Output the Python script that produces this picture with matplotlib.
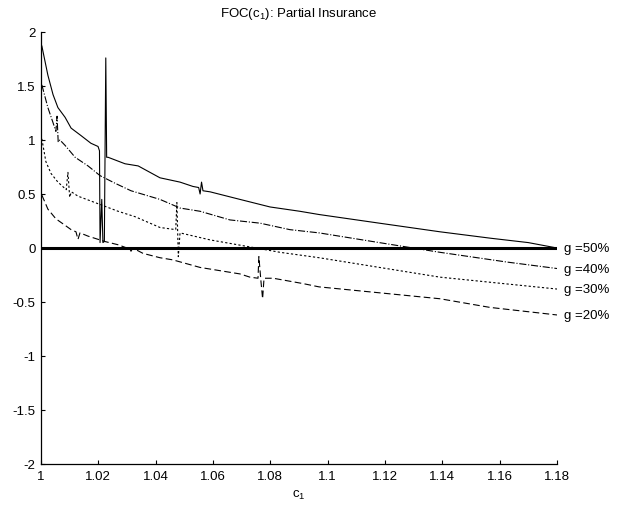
import matplotlib
matplotlib.use("Agg")
import matplotlib.pyplot as plt

plt.rcParams['font.family'] = ['Liberation Sans Narrow', 'Liberation Sans', 'DejaVu Sans']
plt.rcParams['mathtext.default'] = 'regular'
plt.rcParams['font.size'] = 9.5

# FOC(c1) for each g (glitches included)
c50 = [1.0003, 1.0024, 1.0042, 1.0059, 1.0084, 1.0105, 1.0140, 1.0174, 1.0199, 1.0204,
       1.0206, 1.0212, 1.0216, 1.0221, 1.0226, 1.0229, 1.0234, 1.0293, 1.0339, 1.0415,
       1.0485, 1.0530, 1.0550, 1.0555, 1.0560, 1.0565, 1.0590, 1.0694, 1.0799, 1.0903,
       1.0970, 1.1180, 1.1392, 1.1570, 1.1700, 1.1800]
v50 = [1.87, 1.60, 1.42, 1.30, 1.21, 1.11, 1.04, 0.97, 0.94, 0.90,
       0.05, 0.45, 0.05, 0.06, 1.76, 0.84, 0.84, 0.78, 0.76, 0.65,
       0.61, 0.57, 0.56, 0.50, 0.61, 0.53, 0.52, 0.45, 0.38, 0.34,
       0.31, 0.23, 0.15, 0.09, 0.05, 0.00]

c40 = [1.0003, 1.0024, 1.0042, 1.0052, 1.0056, 1.0060, 1.0066, 1.0084, 1.0119, 1.0164,
       1.0206, 1.0258, 1.0314, 1.0415, 1.0485, 1.0555, 1.0659, 1.0764, 1.0868, 1.0970,
       1.1180, 1.1392, 1.1625, 1.1800]
v40 = [1.51, 1.30, 1.16, 1.08, 1.22, 0.98, 1.00, 0.95, 0.84, 0.76,
       0.67, 0.60, 0.53, 0.45, 0.37, 0.34, 0.26, 0.23, 0.17, 0.14,
       0.05, -0.04, -0.13, -0.19]

c30 = [1.0003, 1.0017, 1.0035, 1.0059, 1.0088, 1.0094, 1.0100, 1.0106, 1.0129, 1.0199,
       1.0269, 1.0328, 1.0415, 1.0470, 1.0474, 1.0479, 1.0485, 1.0590, 1.0729, 1.0834,
       1.0970, 1.1392, 1.1800]
v30 = [1.01, 0.80, 0.69, 0.61, 0.54, 0.70, 0.47, 0.52, 0.48, 0.41,
       0.34, 0.29, 0.19, 0.17, 0.42, -0.08, 0.14, 0.075, 0.01, -0.04,
       -0.09, -0.27, -0.38]

c20 = [1.0003, 1.0024, 1.0052, 1.0084, 1.0105, 1.0122, 1.0129, 1.0136, 1.0164, 1.0223,
       1.0269, 1.0310, 1.0314, 1.0320, 1.0356, 1.0415, 1.0460, 1.0555, 1.0694, 1.0729,
       1.0757, 1.0760, 1.0767, 1.0773, 1.0778, 1.0810, 1.0915, 1.0970, 1.1392, 1.1566,
       1.1800]
v20 = [0.49, 0.36, 0.27, 0.21, 0.17, 0.15, 0.08, 0.14, 0.11, 0.06,
       0.03, -0.01, -0.03, 0.00, -0.05, -0.09, -0.11, -0.18, -0.24, -0.27,
       -0.28, -0.08, -0.30, -0.47, -0.28, -0.28, -0.33, -0.36, -0.47, -0.55,
       -0.62]

labels = ['g =50%', 'g =40%', 'g =30%', 'g =20%']
xticks = [1, 1.02, 1.04, 1.06, 1.08, 1.1, 1.12, 1.14, 1.16, 1.18]
xticklabels = ['1', '1.02', '1.04', '1.06', '1.08', '1.1', '1.12', '1.14', '1.16', '1.18']
yticks = [-2, -1.5, -1, -0.5, 0, 0.5, 1, 1.5, 2]
yticklabels = ['-2', '-1.5', '-1', '-0.5', '0', '0.5', '1', '1.5', '2']

fig = plt.figure(figsize=(6.2, 5.1), dpi=100)
ax = fig.add_axes([41/620, 1 - 465/510, (557 - 41)/620, (465 - 33)/510])

styles = ['-', '-.', (0, (2.0, 2.0)), (0, (6.0, 3.0))]
series = [(c50, v50), (c40, v40), (c30, v30), (c20, v20)]
for (cs, vs), ls, lab in zip(series, styles, labels):
    ax.plot(cs, vs, color='black', lw=0.8, linestyle=ls)
    ax.annotate(lab, xy=(cs[-1], vs[-1]), xytext=(5, 0), textcoords='offset points',
                va='center', ha='left', annotation_clip=False)

ax.axhline(0, color='black', lw=2.2)

ax.set_xlim(1, 1.18)
ax.set_ylim(-2, 2)
ax.set_xticks(xticks)
ax.set_xticklabels(xticklabels)
ax.set_yticks(yticks)
ax.set_yticklabels(yticklabels)
ax.tick_params(direction='in', length=3, width=0.8, pad=4)
ax.spines['top'].set_visible(False)
ax.spines['right'].set_visible(False)
ax.spines['left'].set_linewidth(0.9)
ax.spines['bottom'].set_linewidth(0.9)

fig.text(299/620, 1 - 14/510, 'FOC(c$_1$): Partial Insurance', ha='center', va='center')
fig.text(299/620, 1 - 495/510, 'c$_1$', ha='center', va='center')

fig.savefig('out.png', dpi=100)
